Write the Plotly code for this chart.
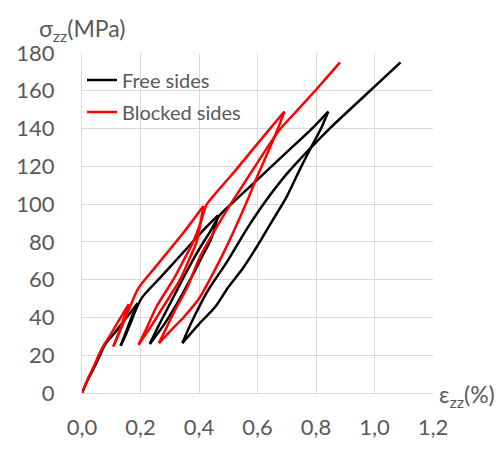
import plotly.graph_objects as go

# Cyclic compression: load -> unload to ~25 MPa -> reload, three cycles then final loading
free_strain = [0.0, 0.02, 0.04, 0.06, 0.075, 0.09, 0.11, 0.14, 0.165, 0.19,
               0.172, 0.152, 0.132,
               0.15, 0.17, 0.188, 0.205, 0.227, 0.27, 0.32, 0.37, 0.42, 0.465,
               0.455, 0.44, 0.41, 0.37, 0.32, 0.275, 0.232,
               0.26, 0.30, 0.35, 0.40, 0.44, 0.47, 0.52, 0.60, 0.70, 0.78, 0.842,
               0.82, 0.79, 0.75, 0.70, 0.65, 0.60, 0.55, 0.50, 0.455, 0.40, 0.343,
               0.37, 0.40, 0.432, 0.50, 0.56, 0.625, 0.70, 0.777, 0.85, 0.95, 1.089]
free_stress = [0, 7, 13, 19.5, 24.5, 28, 31.5, 37.5, 42.5, 47.5,
               41, 33, 25,
               31, 38.5, 45.5, 50.5, 54.5, 61.5, 70, 78.5, 87, 94,
               88, 81, 72, 60, 46, 35, 26,
               35, 47, 62, 76, 86, 94, 101.5, 113, 127.5, 139, 149,
               141, 132, 120, 104, 91, 78, 66, 56, 45.5, 36.5, 26.4,
               36, 45.5, 54.6, 70.5, 86, 101, 116, 129, 140.5, 155, 175]

blocked_strain = [0.0, 0.02, 0.04, 0.06, 0.075, 0.09, 0.113, 0.14, 0.16,
                  0.145, 0.127, 0.107,
                  0.125, 0.145, 0.165, 0.193, 0.25, 0.30, 0.35, 0.415,
                  0.405, 0.392, 0.37, 0.335, 0.278, 0.235, 0.193,
                  0.22, 0.255, 0.312, 0.35, 0.38, 0.405, 0.425, 0.45, 0.52, 0.60, 0.692,
                  0.67, 0.64, 0.60, 0.56, 0.52, 0.48, 0.44, 0.40, 0.35, 0.30, 0.263,
                  0.29, 0.32, 0.36, 0.403, 0.45, 0.50, 0.55, 0.60, 0.64, 0.677, 0.75, 0.82, 0.882]
blocked_stress = [0, 7.5, 14, 21, 25.5, 29, 35, 42, 47,
                  40.5, 32.5, 24.6,
                  31, 38.5, 46, 55.5, 66.5, 76, 85.5, 99,
                  90, 80, 72, 60, 45.8, 35, 25.5,
                  34, 45.8, 60, 71, 80, 90, 99.5, 104.5, 117, 132, 149,
                  140, 129, 115, 100, 86, 73, 61, 50, 40.5, 32.5, 26.4,
                  35, 44.5, 56, 72, 85, 98, 110, 122, 131.5, 139.6, 152, 164, 175]

x_ticks = [0.0, 0.2, 0.4, 0.6, 0.8, 1.0, 1.2]
y_ticks = [0, 20, 40, 60, 80, 100, 120, 140, 160, 180]

FONT = "Lato, 'Open Sans', sans-serif"
GREY = "#595959"


def branches(strain, stress):
    """Split a load path at each stress reversal so cusps stay sharp."""
    cuts = [0]
    for i in range(1, len(stress) - 1):
        if (stress[i] - stress[i - 1]) * (stress[i + 1] - stress[i]) < 0:
            cuts.append(i)
    cuts.append(len(stress) - 1)
    return [(strain[a:b + 1], stress[a:b + 1]) for a, b in zip(cuts[:-1], cuts[1:])]


fig = go.Figure()
for name, group, color, xs, ys in [
    ("Free sides", "free", "#000000", free_strain, free_stress),
    ("Blocked sides", "blocked", "#ff0000", blocked_strain, blocked_stress),
]:
    for k, (bx, by) in enumerate(branches(xs, ys)):
        fig.add_trace(go.Scatter(x=bx, y=by, mode="lines", name=name,
                                 legendgroup=group, showlegend=(k == 0),
                                 line=dict(color=color, width=2.5,
                                           shape="spline", smoothing=0.8)))

axis_common = dict(showgrid=True, gridcolor="#d9d9d9", gridwidth=1,
                   zeroline=False, showline=True, linecolor="#d9d9d9",
                   linewidth=1, ticks="", tickfont=dict(family=FONT, size=22, color=GREY))

fig.update_xaxes(range=[0, 1.2], tickvals=x_ticks, tickformat=".1f",
                 ticklabelstandoff=15, **axis_common)
fig.update_yaxes(range=[0, 180], tickvals=y_ticks,
                 ticklabelstandoff=22, **axis_common)

fig.add_annotation(x=-0.128, y=1.07, xref="paper", yref="paper",
                   xanchor="left", yanchor="middle", showarrow=False,
                   text="σ<sub>zz</sub>(MPa)",
                   font=dict(family=FONT, size=23, color=GREY))
fig.add_annotation(x=1.011, y=-0.006, xref="paper", yref="paper",
                   xanchor="left", yanchor="middle", showarrow=False,
                   text="ε<sub>zz</sub>(%)",
                   font=dict(family=FONT, size=23, color=GREY))

fig.update_layout(
    width=501, height=455,
    margin=dict(l=82, r=68, t=53, b=62),
    paper_bgcolor="white", plot_bgcolor="white",
    separators=", ",
    showlegend=True,
    legend=dict(x=0.0, y=0.978, xanchor="left", yanchor="top",
                bgcolor="rgba(255,255,255,0)", tracegroupgap=3,
                itemwidth=30,
                font=dict(family=FONT, size=20, color=GREY)),
)

fig.write_html("out.html")
